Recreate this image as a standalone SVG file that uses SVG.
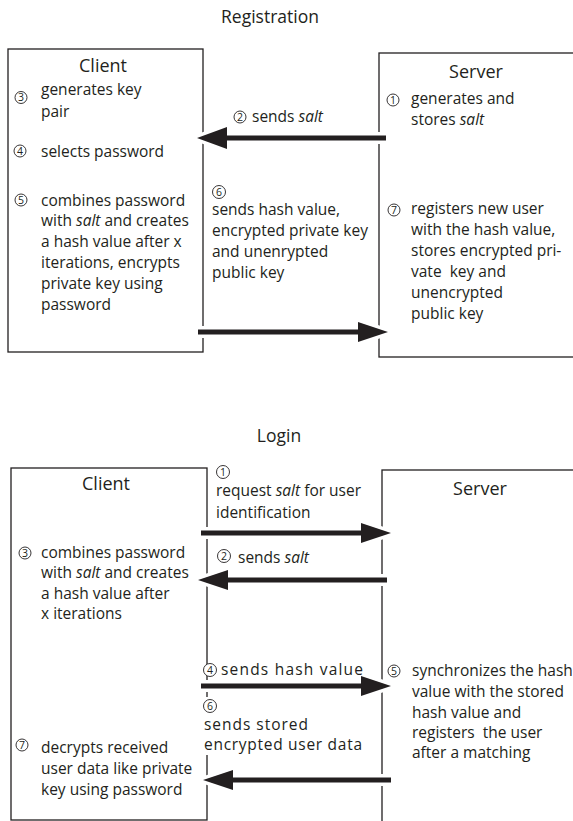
<svg xmlns="http://www.w3.org/2000/svg" width="573" height="821" viewBox="0 0 573 821">
<style>
text{font-family:"Open Sans","Liberation Sans",sans-serif;fill:#231f20}
.t{font-size:15.5px}
.h{font-size:17.5px;text-anchor:middle}
.n{font-size:18px;text-anchor:middle}
.d{font-size:10.5px;text-anchor:middle}
.box{fill:none;stroke:#231f20;stroke-width:1.3}
.c{fill:#fff;stroke:#231f20;stroke-width:0.9}
.arr{fill:#231f20;stroke:#fff;stroke-width:7;paint-order:stroke fill;stroke-linejoin:miter}
</style>
<rect width="573" height="821" fill="#fff"/>
<text class="h" x="270" y="23">Registration</text>
<text class="h" x="279" y="442">Login</text>

<g id="reg-client">
<rect class="box" x="8" y="49" width="195" height="303"/>
<text class="n" x="103" y="72">Client</text>
<circle class="c" cx="21" cy="97.5" r="6"/><text class="d" x="21" y="101.3">3</text>
<text class="t" x="41" y="95">generates key</text>
<text class="t" x="41" y="117">pair</text>
<circle class="c" cx="20" cy="151" r="6"/><text class="d" x="20" y="154.8">4</text>
<text class="t" x="41" y="156.5">selects password</text>
<circle class="c" cx="21" cy="200" r="6"/><text class="d" x="21" y="203.8">5</text>
<text class="t" x="41" y="205.5">combines password</text>
<text class="t" x="41" y="226">with <tspan font-style="italic">salt</tspan> and creates</text>
<text class="t" x="41" y="247">a hash value after x</text>
<text class="t" x="41" y="268">iterations, encrypts</text>
<text class="t" x="41" y="289">private key using</text>
<text class="t" x="41" y="310">password</text>
</g>

<g id="reg-server">
<rect class="box" x="379" y="53" width="220" height="304"/>
<text class="n" x="476" y="78">Server</text>
<circle class="c" cx="393" cy="100" r="6"/><text class="d" x="393" y="103.8">1</text>
<text class="t" x="411" y="104">generates and</text>
<text class="t" x="411" y="125">stores <tspan font-style="italic">salt</tspan></text>
<circle class="c" cx="394" cy="210" r="6"/><text class="d" x="394" y="213.8">7</text>
<text class="t" x="411" y="214">registers new user</text>
<text class="t" x="411" y="235">with the hash value,</text>
<text class="t" x="411" y="256">stores encrypted pri-</text>
<text class="t" x="411" y="277" xml:space="preserve">vate  key and</text>
<text class="t" x="411" y="298">unencrypted</text>
<text class="t" x="411" y="319">public key</text>
</g>

<g id="login-client">
<rect class="box" x="11" y="468" width="196" height="352"/>
<text class="n" x="106" y="490">Client</text>
<circle class="c" cx="25" cy="553" r="6"/><text class="d" x="25" y="556.8">3</text>
<text class="t" x="41" y="557.5">combines password</text>
<text class="t" x="41" y="578">with <tspan font-style="italic">salt</tspan> and creates</text>
<text class="t" x="41" y="599">a hash value after</text>
<text class="t" x="41" y="619">x iterations</text>
<circle class="c" cx="22" cy="745" r="6"/><text class="d" x="22" y="748.8">7</text>
<text class="t" x="41" y="753">decrypts received</text>
<text class="t" x="41" y="774">user data like private</text>
<text class="t" x="41" y="795">key using password</text>
</g>

<g id="login-server">
<rect class="box" x="382" y="470" width="220" height="360"/>
<text class="n" x="480" y="495">Server</text>
<circle class="c" cx="394" cy="671" r="6"/><text class="d" x="394" y="674.8">5</text>
<text class="t" x="412" y="676">synchronizes the hash</text>
<text class="t" x="412" y="697">value with the stored</text>
<text class="t" x="412" y="718">hash value and</text>
<text class="t" x="412" y="738" xml:space="preserve">registers  the user</text>
<text class="t" x="412" y="758">after a matching</text>
</g>

<g id="connectors">
<path class="arr" d="M386,135.5 H227 V127 L197,138 L227,149 V140.5 H386 Z"/>
<path class="arr" d="M198,329.5 H358 V322 L388,332 L358,342 V334.5 H198 Z"/>
<path class="arr" d="M201,530.5 H361 V523 L391,533 L361,543 V535.5 H201 Z"/>
<path class="arr" d="M387,577.5 H228 V570 L198,580 L228,590 V582.5 H387 Z"/>
<path class="arr" d="M201,683.5 H361 V676 L391,686 L361,696 V688.5 H201 Z"/>
<path class="arr" d="M391,777.5 H233 V770 L203,780 L233,790 V782.5 H391 Z"/>
</g>

<g id="labels">
<circle class="c" cx="240" cy="117" r="6"/><text class="d" x="240" y="120.8">2</text>
<text class="t" x="252" y="122">sends <tspan font-style="italic">salt</tspan></text>
<circle class="c" cx="219" cy="192" r="6.5"/><text class="d" x="219" y="195.8">6</text>
<text class="t" x="212" y="215">sends hash value,</text>
<text class="t" x="212" y="236">encrypted private key</text>
<text class="t" x="212" y="257">and unenrypted</text>
<text class="t" x="212" y="278">public key</text>
<circle class="c" cx="223" cy="472" r="6.5"/><text class="d" x="223" y="475.8">1</text>
<text class="t" x="216" y="496">request <tspan font-style="italic">salt</tspan> for user</text>
<text class="t" x="216" y="518">identification</text>
<circle class="c" cx="224" cy="556" r="6.5"/><text class="d" x="224" y="559.8">2</text>
<text class="t" x="238" y="563">sends <tspan font-style="italic">salt</tspan></text>
<circle class="c" cx="210" cy="670" r="6.5"/><text class="d" x="210" y="673.8">4</text>
<text class="t" x="221" y="675" textLength="142" lengthAdjust="spacing">sends hash value</text>
<rect x="200" y="697" width="12" height="58" fill="#fff"/>
<circle class="c" cx="210" cy="706" r="6.5"/><text class="d" x="210" y="709.8">6</text>
<text class="t" x="204" y="730" textLength="104" lengthAdjust="spacing">sends stored</text>
<text class="t" x="204" y="750" textLength="158" lengthAdjust="spacing">encrypted user data</text>
</g>
</svg>
